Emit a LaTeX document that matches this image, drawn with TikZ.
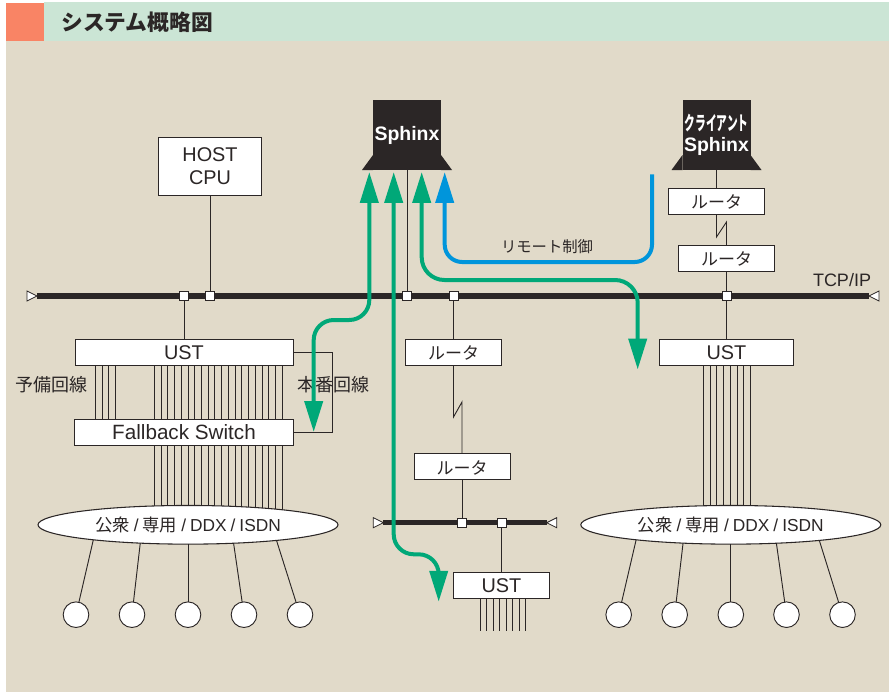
\documentclass[tikz,border=0pt]{standalone}
\usepackage{fontspec}
\setmainfont{Liberation Sans}
\newfontfamily\jp{Noto Sans CJK JP}
\usetikzlibrary{arrows.meta,shapes.geometric}
\definecolor{panelbg}{HTML}{E1DAC9}
\definecolor{headbg}{HTML}{CBE5D5}
\definecolor{headmark}{HTML}{F98465}
\definecolor{inkdark}{HTML}{2B2626}
\definecolor{greenflow}{HTML}{00A878}
\definecolor{blueflow}{HTML}{0095DB}
\tikzset{
  wire/.style={line width=.7pt,inkdark},
  busline/.style={line width=3.9pt,inkdark},
  boxnode/.style={draw=inkdark,line width=.7pt,fill=white,inner sep=0pt,outer sep=0pt,text=inkdark,align=center,font=\fontsize{14.9}{17.25}\selectfont,execute at begin node={\rule{0pt}{12pt}}},
  routerbox/.style={boxnode,minimum width=72pt,minimum height=19.5pt,font=\jp\fontsize{12.75}{15}\selectfont},
  sphinxbox/.style={fill=inkdark,inner sep=0pt,outer sep=0pt,text=white,align=center,minimum width=51pt,minimum height=52.5pt,font=\bfseries\fontsize{14.6}{15}\selectfont},
  junction/.style={draw=inkdark,line width=.7pt,fill=white,inner sep=0pt,outer sep=0pt,minimum size=6.8pt},
  busend/.style={draw=inkdark,line width=.6pt,fill=white,isosceles triangle,isosceles triangle stretches,inner sep=0pt,outer sep=0pt,minimum width=7.5pt,minimum height=7.5pt},
  cloudnode/.style={draw=inkdark,line width=.8pt,fill=white,ellipse,inner sep=0pt,outer sep=0pt,minimum width=225pt,minimum height=29pt,text=inkdark,font=\fontsize{13}{15}\selectfont},
  terminal/.style={draw=inkdark,line width=.7pt,fill=white,circle,inner sep=0pt,outer sep=0pt,minimum size=19.2pt},
  textlabel/.style={text=inkdark,inner sep=0pt,font=\jp\fontsize{13.5}{15}\selectfont},
  greenarrow/.style={line width=3pt,greenflow,rounded corners=15pt},
  bluearrow/.style={line width=3pt,blueflow,rounded corners=13pt}
}
\newcommand{\cloudtext}{{\jp 公衆}\hspace{3pt}/\hspace{3pt}{\jp 専用}\hspace{3pt}/\hspace{3pt}DDX\hspace{3pt}/\hspace{3pt}ISDN}
\begin{document}
\begin{tikzpicture}[x=.75pt,y=-.75pt,>={Triangle[length=23.2pt,width=13.5pt]}]
        \fill [white] (0,0) rectangle (889,692);
        \fill [panelbg] (6,40.7) rectangle (889,692);
        \fill [headbg] (44,2.3) rectangle (889,40.7);
        \fill [headmark] (6,3) rectangle (44,40.7);
        \node [anchor=west,inner sep=0pt,text=inkdark,font=\jp\bfseries\fontsize{16.3}{18}\selectfont] (title) at (61,22) {システム概略図};

        \node [sphinxbox] (sphinx) at (407,135) {\raisebox{1.5pt}{Sphinx}};
        \fill [inkdark] (sphinx.south west)-- ++(-11,0)-- ++(11,-15)-- cycle;
        \fill [inkdark] (sphinx.south east)-- ++(11,0)-- ++(-11,-15)-- cycle;
        \node [sphinxbox] (client) at (716.5,135) {\raisebox{3pt}{\scalebox{.55}[1]{\jp\fontsize{14.6}{15}\selectfont クライアント}}\\[1pt]\raisebox{3pt}{Sphinx}};
        \fill [inkdark] (client.south west)-- ++(-11,0)-- ++(11,-15)-- cycle;
        \fill [inkdark] (client.south east)-- ++(11,0)-- ++(-11,-15)-- cycle;

        \node [boxnode,minimum width=77.25pt,minimum height=43.5pt] (host) at (210,166) {HOST\\CPU};
        \node [routerbox] (routerA) at (716.5,201) {ルータ};
        \node [routerbox] (routerB) at (726.5,258) {ルータ};
        \node [routerbox] (routerC) at (453.5,352) {ルータ};
        \node [routerbox] (routerD) at (462,466.7) {ルータ};
        \node [boxnode,minimum width=163.5pt,minimum height=19.5pt] (ustL) at (184,352) {UST};
        \node [boxnode,minimum width=164.25pt,minimum height=19.5pt,font=\fontsize{15.5}{17}\selectfont] (fallback) at (184,432) {Fallback Switch};
        \node [boxnode,minimum width=100.8pt,minimum height=19.5pt] (ustR) at (726.5,352) {UST};
        \node [boxnode,minimum width=72pt,minimum height=19.5pt] (ustS) at (501.5,585) {UST};

        \node [busend,anchor=apex] (busLeft) at (37,296) {};
        \node [busend,anchor=apex,shape border rotate=180] (busRight) at (869,296) {};
        \draw [busline] (busLeft.apex)-- (busRight.apex);
        \node [busend,anchor=apex] (subLeft) at (383.3,522.7) {};
        \node [busend,anchor=apex,shape border rotate=180] (subRight) at (546.7,522.7) {};
        \draw [busline] (subLeft.apex)-- (subRight.apex);

        \node [junction] (jA) at (184,296) {};
        \node [junction] (jB) at (210,296) {};
        \node [junction] (jC) at (407,296) {};
        \node [junction] (jD) at (453.5,296) {};
        \node [junction] (jE) at (726.5,296) {};
        \node [junction] (jF) at (462,522.7) {};
        \node [junction] (jG) at (501.5,522.7) {};

        \draw [wire] (host)-- (jB);
        \draw [wire] (jA)-- (ustL);
        \draw [wire] (sphinx.south)-- (jC);
        \draw [wire] (jD)-- (routerC);
        \draw [wire] (client.south)-- (routerA);
        \draw [wire] (routerA.south)-- ++(0,23)-- ++(10,-15)-- (routerB.north);
        \draw [wire] (routerB)-- (jE);
        \draw [wire] (jE)-- (ustR);
        \draw [wire] (routerC.south)-- ++(0,52)-- ++(8.5,-15)-- (routerD.north);
        \draw [wire] (routerD)-- (jF);
        \draw [wire] (jG)-- (ustS);
        \draw [wire] (ustL.east)-- ++(39,0) |- (fallback.east);

        \coordinate (cloudLeft) at (188,524.8);
        \coordinate (cloudRight) at (730.8,524.8);
        \foreach \i [evaluate=\i as \xw using 95.3+\i*6.67] in {0,...,3}
          \draw [wire] (\xw,0 |- ustL.south)-- (\xw,0 |- fallback.north);
        \foreach \i [evaluate=\i as \xw using 154.3+\i*6.737] in {0,...,19} {
          \draw [wire] (\xw,0 |- ustL.south)-- (\xw,0 |- fallback.north);
          \draw [wire] (\xw,0 |- fallback.south)-- (\xw,0 |- cloudLeft);
        }
        \foreach \i [evaluate=\i as \xw using 703.3+\i*6.76] in {0,...,7}
          \draw [wire] (\xw,0 |- ustR.south)-- (\xw,0 |- cloudRight);
        \foreach \i [evaluate=\i as \xw using 480+\i*6.53] in {0,...,7}
          \draw [wire] (\xw,0 |- ustS.south)-- (\xw,630.7);

        \node [cloudnode] (wanL) at (cloudLeft) {\cloudtext};
        \node [cloudnode] (wanR) at (cloudRight) {\cloudtext};
        \foreach \n/\xc/\ang in {1/76/189.5,2/132/201.9,3/188/270,4/244/338.1,5/300/350.5} {
          \node [terminal] (termL\n) at (\xc,614.7) {};
          \draw [wire] (wanL.\ang)-- (termL\n);
        }
        \foreach \n/\xc/\ang in {1/618.7/189.5,2/674.7/201.9,3/730.8/270,4/786.5/338.1,5/842.5/350.5} {
          \node [terminal] (termR\n) at (\xc,614.7) {};
          \draw [wire] (wanR.\ang)-- (termR\n);
        }

        \node [textlabel] (spare) at (51,385) {予備回線};
        \node [textlabel] (working) at (333,385) {本番回線};
        \node [textlabel,font=\jp\fontsize{11.5}{14}\selectfont] (remote) at (547,246.7) {リモート制御};
        \node [textlabel,font=\fontsize{13.5}{15}\selectfont] (tcpip) at (842,280) {TCP/IP};

        \coordinate (greenA) at (369.3,172);
        \coordinate (greenB) at (313.7,432);
        \coordinate (greenC) at (393.7,172);
        \coordinate (greenD) at (438.7,601.7);
        \coordinate (greenE) at (421.7,172);
        \coordinate (greenF) at (637.7,369.5);
        \coordinate (blueA) at (444.7,172);
        \coordinate (blueB) at (652,174.3);
        \draw [greenarrow,<->] (greenA)-- (369.3,320)-- (313.7,320)-- (greenB);
        \draw [greenarrow,<->] (greenC)-- (393.7,554.3)-- (438.7,554.3)-- (greenD);
        \draw [greenarrow,<->,rounded corners=17pt] (greenE)-- (421.7,280)-- (637.7,280)-- (greenF);
        \draw [bluearrow,->] (blueB)-- (652,262)-- (444.7,262)-- (blueA);
\end{tikzpicture}
\end{document}
